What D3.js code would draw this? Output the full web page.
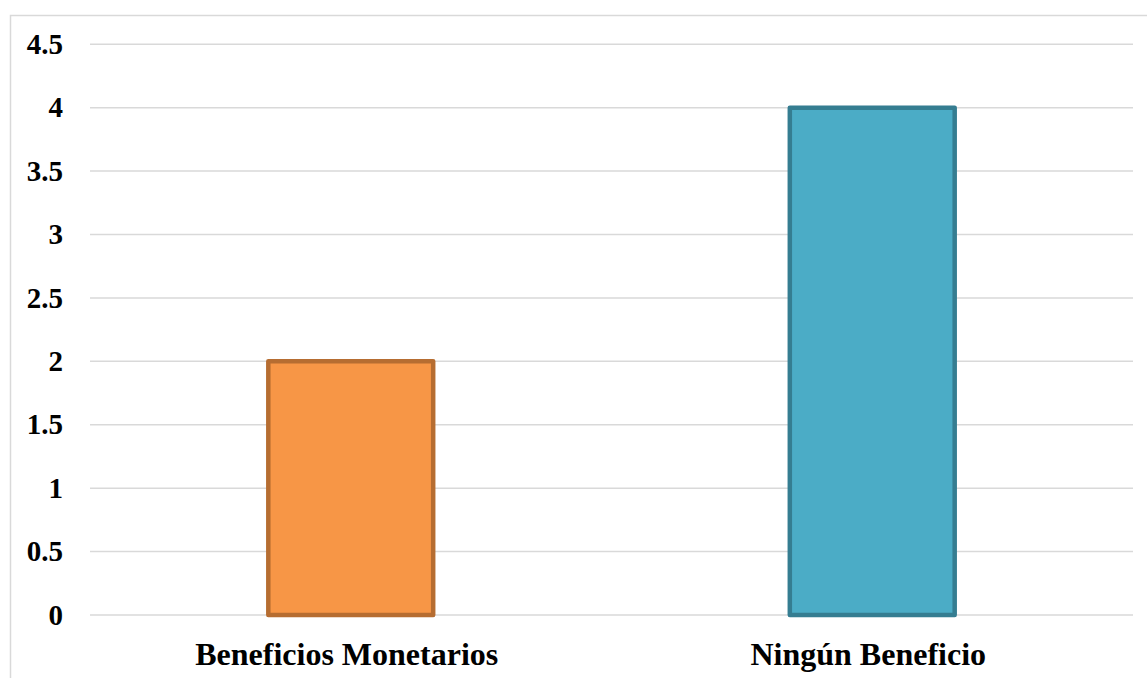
<!DOCTYPE html>
<html>
<head>
<meta charset="utf-8">
<script src="https://cdn.jsdelivr.net/npm/d3@7"></script>
<style>
  html, body { margin: 0; padding: 0; background: #ffffff; }
  svg { display: block; }
  .tick-label { font-family: "Liberation Serif", "Times New Roman", serif; font-weight: bold; font-size: 29px; fill: #000; }
  .cat-label { font-family: "Liberation Serif", "Times New Roman", serif; font-weight: bold; font-size: 32px; fill: #000; }
</style>
</head>
<body>
<svg id="chart" width="1147" height="678"></svg>
<script>
const categories = ["Beneficios Monetarios", "Ningún Beneficio"];
const values = [2, 4];
const fills = ["#f79646", "#4bacc6"];
const strokes = ["#b66d31", "#357d91"];
const yTicks = [0, 0.5, 1, 1.5, 2, 2.5, 3, 3.5, 4, 4.5];

const W = 1147, H = 678;
const plot = { left: 90, right: 1133, top: 44.3, bottom: 615 };

const svg = d3.select("#chart");

// chart area frame
svg.append("rect")
  .attr("x", 10.5).attr("y", 15.5)
  .attr("width", W + 20).attr("height", H + 20)
  .attr("fill", "#fff").attr("stroke", "#d9d9d9").attr("stroke-width", 1.5);

const x = d3.scaleBand().domain(categories).range([plot.left, plot.right]).paddingInner(0.68).paddingOuter(0.34);
const y = d3.scaleLinear().domain([0, 4.5]).range([plot.bottom, plot.top]);

// horizontal gridlines
svg.append("g").selectAll("line").data(yTicks).join("line")
  .attr("x1", plot.left).attr("x2", plot.right)
  .attr("y1", d => y(d)).attr("y2", d => y(d))
  .attr("stroke", "#d9d9d9").attr("stroke-width", 1.5);

// y tick labels
svg.append("g").selectAll("text").data(yTicks).join("text")
  .attr("class", "tick-label")
  .attr("x", 63).attr("y", d => y(d))
  .attr("dy", "0.33em")
  .attr("text-anchor", "end")
  .text(d => d3.format("~g")(d));

// bars
svg.append("g").selectAll("rect").data(values).join("rect")
  .attr("x", (d, i) => x(categories[i]) + 1)
  .attr("y", d => y(d))
  .attr("width", x.bandwidth() - 2)
  .attr("height", d => y(0) - y(d))
  .attr("fill", (d, i) => fills[i])
  .attr("stroke", (d, i) => strokes[i])
  .attr("stroke-width", 4.5)
  .attr("stroke-linejoin", "round");

// category labels
svg.append("g").selectAll("text").data(categories).join("text")
  .attr("class", "cat-label")
  .attr("x", d => x(d) + x.bandwidth() / 2 - 4)
  .attr("y", 665)
  .attr("text-anchor", "middle")
  .text(d => d);
</script>
</body>
</html>
